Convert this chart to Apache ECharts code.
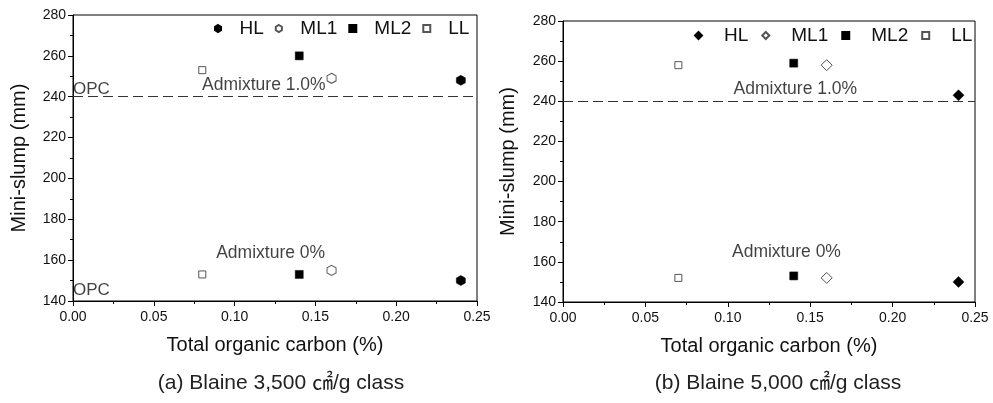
<!DOCTYPE html>
<html><head><meta charset="utf-8">
<script src="https://cdn.jsdelivr.net/npm/echarts@6/dist/echarts.min.js"></script>
<style>html,body{margin:0;padding:0;background:#fff}#c{width:993px;height:403px}</style>
</head><body><div id="c"></div>
<script>
// Limestone types
const groups = ['HL', 'ML1', 'ML2', 'LL'];
// Total organic carbon (%) of each limestone type
const tocA = [0.24, 0.16, 0.14, 0.08];
const tocB = [0.24, 0.16, 0.14, 0.07];
// Mini-slump (mm), Blaine 3,500 cm2/g class
const slumpA1 = [248, 249, 260, 253];   // admixture 1.0%
const slumpA0 = [150, 155, 153, 153];   // admixture 0%
// Mini-slump (mm), Blaine 5,000 cm2/g class
const slumpB1 = [243, 258, 259, 258];
const slumpB0 = [150, 152, 153, 152];
// OPC reference slump
const opcSlump = 240;
// Text notes placed in data coordinates
const notesA = [
  { value: [0.1181, 245.5], name: 'Admixture 1.0%' },
  { value: [0.1223, 163.6], name: 'Admixture 0%' }
];
const opcNotesA = [
  { value: [0.0, 243.6], name: 'OPC' },
  { value: [0.0, 145.0], name: 'OPC' }
];
const notesB = [
  { value: [0.141, 246.0], name: 'Admixture 1.0%' },
  { value: [0.1356, 164.8], name: 'Admixture 0%' }
];
const captions = ['(a) Blaine 3,500 \u33A0/g class', '(b) Blaine 5,000 \u33A0/g class'];

// pointy-top hexagon
const HEX = 'path://M5,0 L9.33,2.5 L9.33,7.5 L5,10 L0.67,7.5 L0.67,2.5 Z';
const symbolsA = [HEX, HEX, 'rect', 'rect'];
const symbolsB = ['diamond', 'diamond', 'rect', 'rect'];
const filled = [true, false, true, false];
const sizesA = [[9, 10], [9, 10], [8, 8], [7, 7]];
const sizesB = [[11, 11], [11, 11], [8, 8], [7, 7]];

const FONT = '"Liberation Sans", Arial, sans-serif';
const INK = '#111';

function styleFor(i) {
  return filled[i]
    ? { color: '#000', borderColor: '#000', borderWidth: 0.5, opacity: 1 }
    : { color: '#fff', borderColor: '#555', borderWidth: 1, opacity: 1 };
}

function makeSeries(prefix, idx, toc, s1, s0, symbols, sizes) {
  return groups.map((g, i) => ({
    name: prefix + g,
    type: 'scatter',
    xAxisIndex: idx, yAxisIndex: idx,
    symbol: symbols[i],
    symbolSize: sizes[i],
    itemStyle: styleFor(i),
    data: [[toc[i], s1[i]], [toc[i], s0[i]]],
    z: 5
  }));
}

function refLine(idx) {
  return {
    type: 'line', xAxisIndex: idx, yAxisIndex: idx, data: [], silent: true,
    markLine: {
      symbol: 'none', silent: true, label: { show: false },
      lineStyle: { color: '#333', type: [10, 5], width: 1 },
      data: [{ yAxis: opcSlump }]
    }
  };
}

function noteSeries(idx, data, align, size) {
  return {
    type: 'scatter', xAxisIndex: idx, yAxisIndex: idx, symbolSize: 0, silent: true,
    data: data,
    itemStyle: { color: INK },
    label: {
      show: true, position: 'inside', align: align, verticalAlign: 'middle',
      formatter: p => p.name, color: INK, fontSize: size, fontFamily: FONT,
      textBorderWidth: 0, textBorderColor: 'transparent'
    },
    z: 4
  };
}

function xAxisFor(idx) {
  return {
    gridIndex: idx, type: 'value', min: 0, max: 0.25, interval: 0.05,
    name: 'Total organic carbon (%)', nameLocation: 'middle', nameGap: 34,
    nameTextStyle: { fontSize: 20, color: INK, fontFamily: FONT },
    axisLine: { lineStyle: { color: '#000', width: 1 } },
    axisTick: { length: 5, lineStyle: { color: '#000' } },
    minorTick: { show: true, splitNumber: 2, length: 3, lineStyle: { color: '#000' } },
    splitLine: { show: false },
    axisLabel: { formatter: v => v.toFixed(2), fontSize: 14, color: INK, fontFamily: FONT, margin: 9 }
  };
}
function yAxisFor(idx, gap) {
  return {
    gridIndex: idx, type: 'value', min: 140, max: 280, interval: 20,
    name: 'Mini-slump (mm)', nameLocation: 'middle', nameGap: gap,
    nameTextStyle: { fontSize: 20, color: INK, fontFamily: FONT },
    axisLine: { show: true, lineStyle: { color: '#000', width: 1 } },
    axisTick: { show: true, length: 5, lineStyle: { color: '#000' } },
    minorTick: { show: true, splitNumber: 2, length: 3, lineStyle: { color: '#000' } },
    splitLine: { show: false },
    axisLabel: { fontSize: 14, color: INK, fontFamily: FONT, margin: 7 }
  };
}

function legendFor(prefix, left, top, pad, gap) {
  return {
    data: groups.map(g => prefix + g),
    left: left, top: top, orient: 'horizontal',
    itemWidth: 7, itemHeight: 7, itemGap: gap,
    selectedMode: false,
    formatter: n => n.slice(prefix.length),
    textStyle: { fontSize: 19, color: INK, fontFamily: FONT, padding: [0, 0, 0, pad] }
  };
}

const chart = echarts.init(document.getElementById('c'), null, { renderer: 'canvas' });
chart.setOption({
  animation: false,
  backgroundColor: '#fff',
  grid: [
    { left: 73, top: 15, width: 404, height: 286, show: true, borderColor: '#000', borderWidth: 1 },
    { left: 563, top: 21, width: 412, height: 281, show: true, borderColor: '#000', borderWidth: 1 }
  ],
  xAxis: [xAxisFor(0), xAxisFor(1)],
  yAxis: [yAxisFor(0, 44), yAxisFor(1, 45)],
  legend: [legendFor('a-', 209, 14, 13, 11), legendFor('b-', 689, 21, 17, 13)],
  series: [
    ...makeSeries('a-', 0, tocA, slumpA1, slumpA0, symbolsA, sizesA),
    ...makeSeries('b-', 1, tocB, slumpB1, slumpB0, symbolsB, sizesB),
    refLine(0), refLine(1),
    noteSeries(0, notesA, 'center', 17.5),
    noteSeries(0, opcNotesA, 'left', 17),
    noteSeries(1, notesB, 'center', 17.5)
  ],
  graphic: [
    { type: 'text', x: 281, y: 383, style: { text: captions[0], align: 'center', verticalAlign: 'middle',
      font: '21px "Liberation Sans", "Noto Sans CJK KR", sans-serif', fill: '#222' } },
    { type: 'text', x: 778, y: 383, style: { text: captions[1], align: 'center', verticalAlign: 'middle',
      font: '21px "Liberation Sans", "Noto Sans CJK KR", sans-serif', fill: '#222' } }
  ]
});
</script>
</body></html>
